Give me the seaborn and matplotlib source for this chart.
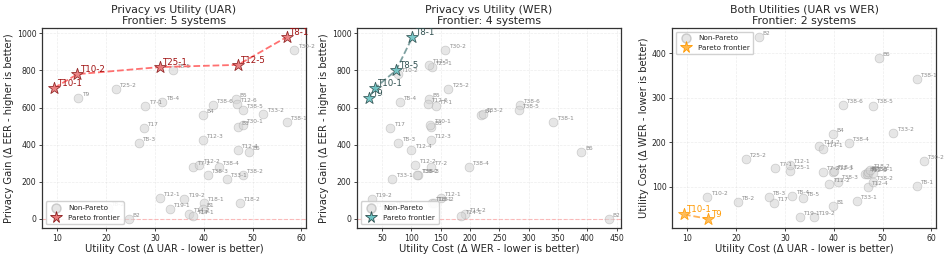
import numpy as np
import pandas as pd
import seaborn as sns
import matplotlib
matplotlib.use("Agg")
import matplotlib.pyplot as plt
from matplotlib.lines import Line2D

systems = ["T10-1", "T10-2", "T25-1", "T12-5", "T8-1", "T30-2", "T9", "T25-2", "T8-5",
           "T7-1", "T8-4", "T17", "B4", "T38-6", "B5", "T12-6", "T38-5", "T33-2", "T38-1",
           "B3", "T30-1", "T8-3", "T12-3", "T12-4", "B6", "T7-2", "T12-2", "T38-4", "T38-3",
           "T33-1", "T38-2", "T12-1", "T19-2", "T18-1", "T18-2", "T19-1", "T14-2", "B1",
           "T14-1", "T8-2", "B2"]
uar_cost = [9.3, 14.1, 31.0, 47.0, 57.0, 58.5, 14.3, 22.0, 33.7,
            28.0, 31.5, 27.7, 39.8, 41.8, 46.5, 46.8, 48.0, 52.2, 57.0,
            47.0, 48.0, 26.7, 39.8, 47.0, 49.2, 37.8, 39.1, 43.1, 40.8,
            44.7, 48.0, 31.0, 36.0, 40.0, 47.4, 33.0, 37.0, 39.8,
            37.8, 20.3, 24.7]
wer_cost = [38, 77, 135, 130, 102, 158, 28, 163, 74,
            142, 80, 64, 218, 285, 130, 128, 283, 222, 342,
            133, 132, 78, 133, 100, 390, 133, 107, 198, 112,
            68, 110, 150, 33, 135, 138, 33, 192, 57,
            185, 66, 437]
eer_gain = [705, 780, 818, 830, 980, 910, 652, 700, 800,
            608, 630, 490, 560, 615, 645, 620, 585, 565, 520,
            495, 505, 408, 425, 372, 362, 280, 290, 280, 237,
            217, 235, 112, 108, 85, 85, 55, 28, 55,
            15, 60, 0]

df = pd.DataFrame({"system": systems, "uar": uar_cost, "wer": wer_cost, "eer": eer_gain})


def pareto(d, xcol, ycol, y_higher_better):
    mask = []
    for i, r in d.iterrows():
        dominated = False
        for j, o in d.iterrows():
            if i == j:
                continue
            if y_higher_better:
                better = o[xcol] <= r[xcol] and o[ycol] >= r[ycol] and (o[xcol] < r[xcol] or o[ycol] > r[ycol])
            else:
                better = o[xcol] <= r[xcol] and o[ycol] <= r[ycol] and (o[xcol] < r[xcol] or o[ycol] < r[ycol])
            if better:
                dominated = True
                break
        mask.append(not dominated)
    return np.array(mask)


sns.set_theme(style="ticks")
plt.rcParams['font.family'] = ['DejaVu Sans']

fig = plt.figure(figsize=(9.47, 2.59), dpi=100)
lefts = [0.0444, 0.377, 0.7096]
axes = [fig.add_axes([l, 0.1197, 0.2788, 0.7725]) for l in lefts]

panels = [
    dict(x="uar", y="eer", hb=True, title="Privacy vs Utility (UAR)",
         xlabel="Utility Cost (Δ UAR - lower is better)",
         ylabel="Privacy Gain (Δ EER - higher is better)",
         face="#e8797a", edge="#8b1a1a", line="#ff4d4d", txt="#a01010", zero=True, loc="lower left"),
    dict(x="wer", y="eer", hb=True, title="Privacy vs Utility (WER)",
         xlabel="Utility Cost (Δ WER - lower is better)",
         ylabel="Privacy Gain (Δ EER - higher is better)",
         face="#6cc5c5", edge="#2f4f4f", line="#5f8a8a", txt="#2f4f4f", zero=True, loc="lower left"),
    dict(x="uar", y="wer", hb=False, title="Both Utilities (UAR vs WER)",
         xlabel="Utility Cost (Δ UAR - lower is better)",
         ylabel="Utility Cost (Δ WER - lower is better)",
         face="#ffb84d", edge="#ff9900", line="#ffa030", txt="#ff9900", zero=False, loc="upper left"),
]

for ax, p in zip(axes, panels):
    m = pareto(df, p["x"], p["y"], p["hb"])
    non = df[~m]
    fr = df[m].sort_values(p["x"])
    sns.scatterplot(data=non, x=p["x"], y=p["y"], ax=ax, s=40, color="#d3d3d3",
                    edgecolor="#a9a9a9", linewidth=0.5, alpha=0.55, zorder=2)
    for _, r in non.iterrows():
        ax.annotate(r["system"], (r[p["x"]], r[p["y"]]), xytext=(2.5, 1.5), textcoords="offset points",
                    fontsize=4.2, color="#808080", alpha=0.9)
    sns.lineplot(data=fr, x=p["x"], y=p["y"], ax=ax, color=p["line"], linestyle="--",
                 linewidth=1.3, alpha=0.8, estimator=None, sort=False, zorder=3)
    sns.scatterplot(data=fr, x=p["x"], y=p["y"], ax=ax, marker="*", s=80, color=p["face"],
                    edgecolor=p["edge"], linewidth=0.6, alpha=0.9, zorder=4)
    for _, r in fr.iterrows():
        ax.annotate(r["system"], (r[p["x"]], r[p["y"]]), xytext=(2.5, 1.5), textcoords="offset points",
                    fontsize=6.2, color=p["txt"])
    if p["zero"]:
        ax.axhline(0, color="#ff8080", linestyle="--", linewidth=0.8, alpha=0.5, zorder=1)
    ax.grid(True, linestyle="--", linewidth=0.5, alpha=0.35)
    ax.set_title(f"{p['title']}\nFrontier: {int(m.sum())} systems", fontsize=7.8, pad=3, linespacing=1.1)
    ax.set_xlabel(p["xlabel"], fontsize=7.2, labelpad=1)
    ax.set_ylabel(p["ylabel"], fontsize=7.2, labelpad=2)
    ax.tick_params(labelsize=5.6, length=2.5, width=0.6, pad=1.5)
    for s in ax.spines.values():
        s.set_linewidth(0.9)
        s.set_color("#333333")
    handles = [
        Line2D([], [], marker="o", linestyle="", markersize=6.5, markerfacecolor="#d3d3d3",
               markeredgecolor="#a9a9a9", alpha=0.55),
        Line2D([], [], marker="*", linestyle="", markersize=8.5, markerfacecolor=p["face"],
               markeredgecolor=p["edge"], markeredgewidth=0.6),
    ]
    ax.legend(handles, ["Non-Pareto", "Pareto frontier"], loc=p["loc"], fontsize=5.2,
              frameon=True, framealpha=0.9, borderpad=0.5, handletextpad=0.6)

axes[2].set_yticks([100, 200, 300, 400])
fig.savefig("out.png", dpi=100)
